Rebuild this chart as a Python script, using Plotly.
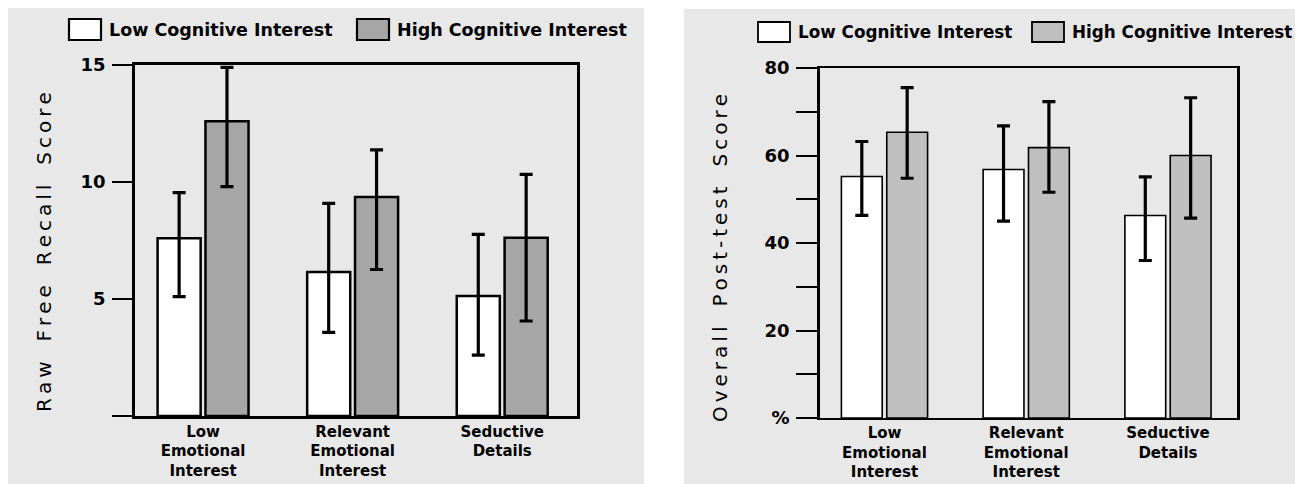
import plotly.graph_objects as go

# Conditions on the x axis (shared by both panels)
conditions = ["Low<br>Emotional<br>Interest",
              "Relevant<br>Emotional<br>Interest",
              "Seductive<br>Details"]
series_names = ["Low Cognitive Interest", "High Cognitive Interest"]

# Panel 1: raw free recall score (means with error bars above / below)
recall_low = [7.6, 6.15, 5.13]
recall_low_up = [1.95, 2.94, 2.63]
recall_low_down = [2.5, 2.58, 2.53]
recall_high = [12.6, 9.36, 7.62]
recall_high_up = [2.3, 2.01, 2.71]
recall_high_down = [2.8, 3.1, 3.56]
recall_ticks = [0, 5, 10, 15]
recall_ticklabels = ["", "5", "10", "15"]

# Panel 2: overall post-test score (%)
post_low = [55.2, 56.8, 46.3]
post_low_up = [8.0, 9.95, 8.8]
post_low_down = [8.9, 11.8, 10.3]
post_high = [65.3, 61.8, 60.0]
post_high_up = [10.2, 10.5, 13.2]
post_high_down = [10.5, 10.2, 14.3]
post_ticks = [0, 10, 20, 30, 40, 50, 60, 70, 80]
post_ticklabels = ["%", "", "20", "", "40", "", "60", "", "80"]

W, H = 1295, 484
PANEL_BG = "#e8e8e8"
FONT = "DejaVu Sans"


def px(x):
    return x / W


def py(y):
    return 1 - y / H


def spaced(text):
    # letter-spaced axis title
    words = text.split(" ")
    return "\u2003".join("\u2009".join(w) for w in words)


fig = go.Figure()

panels = [
    dict(xa="x", ya="y", low=recall_low, lu=recall_low_up, ld=recall_low_down,
         high=recall_high, hu=recall_high_up, hd=recall_high_down,
         grey="#a6a6a6", bar_lw=2.5),
    dict(xa="x2", ya="y2", low=post_low, lu=post_low_up, ld=post_low_down,
         high=post_high, hu=post_high_up, hd=post_high_down,
         grey="#bfbfbf", bar_lw=1.6),
]

for p in panels:
    for name, vals, up, down, color in [
        (series_names[0], p["low"], p["lu"], p["ld"], "#ffffff"),
        (series_names[1], p["high"], p["hu"], p["hd"], p["grey"]),
    ]:
        fig.add_trace(go.Bar(
            x=conditions, y=vals, name=name, showlegend=False,
            xaxis=p["xa"], yaxis=p["ya"],
            marker=dict(color=color, line=dict(color="black", width=p["bar_lw"])),
            error_y=dict(type="data", symmetric=False, array=up, arrayminus=down,
                         color="black", thickness=3.2, width=6.5),
        ))

axis_common = dict(showline=True, linecolor="black", mirror=True,
                   showgrid=False, zeroline=False, automargin=False)

fig.update_layout(
    width=W, height=H, autosize=False,
    margin=dict(l=0, r=0, t=0, b=0, pad=0),
    paper_bgcolor="white", plot_bgcolor="rgba(0,0,0,0)",
    barmode="group", bargap=0.36, bargroupgap=0.1,
    font=dict(family=FONT, color="black"),
    xaxis=dict(domain=[px(135), px(577)], range=[-0.455, 2.50], anchor="y",
               ticks="", linewidth=2.5, ticklabelstandoff=0,
               tickfont=dict(family=FONT, size=15, weight="bold"), **axis_common),
    yaxis=dict(domain=[py(416), py(65)], range=[0, 15], anchor="x",
               tickvals=recall_ticks, ticktext=recall_ticklabels,
               ticks="outside", ticklen=20, tickwidth=2, tickcolor="black",
               linewidth=2.5, ticklabelstandoff=3,
               tickfont=dict(family=FONT, size=18, weight="bold"), **axis_common),
    xaxis2=dict(domain=[px(820), px(1237)], range=[-0.455, 2.487], anchor="y2",
                ticks="", linewidth=2.2, ticklabelstandoff=0,
                tickfont=dict(family=FONT, size=15, weight="bold"), **axis_common),
    yaxis2=dict(domain=[py(418), py(68)], range=[0, 80], anchor="x2",
                tickvals=post_ticks, ticktext=post_ticklabels,
                ticks="outside", ticklen=21, tickwidth=2, tickcolor="black",
                linewidth=2.5, ticklabelstandoff=3,
                tickfont=dict(family=FONT, size=18, weight="bold"), **axis_common),
)

# Grey panel backgrounds
shapes = [
    dict(type="rect", xref="paper", yref="paper", layer="below",
         x0=px(8), x1=px(644), y0=0, y1=py(8),
         fillcolor=PANEL_BG, line=dict(width=0)),
    dict(type="rect", xref="paper", yref="paper", layer="below",
         x0=px(684), x1=1, y0=0, y1=py(9),
         fillcolor=PANEL_BG, line=dict(width=0)),
]

annotations = []

# Legend boxes and labels for each panel
legend_rows = [
    # box x0, box x1, text x, y top, y bottom, fill, font size, box line width, label
    (69, 101, 107, 19, 40, "#ffffff", 17.5, 2.2, series_names[0]),
    (357, 389, 395, 19, 40, "#a6a6a6", 17.5, 2.2, series_names[1]),
    (758, 790, 796, 22, 42, "#ffffff", 16.8, 1.8, series_names[0]),
    (1032, 1064, 1070, 22, 42, "#bfbfbf", 16.8, 1.8, series_names[1]),
]
for x0, x1, tx, y0, y1, fill, fs, lw, label in legend_rows:
    shapes.append(dict(type="rect", xref="paper", yref="paper",
                       x0=px(x0), x1=px(x1), y0=py(y1), y1=py(y0),
                       fillcolor=fill, line=dict(color="black", width=lw)))
    annotations.append(dict(xref="paper", yref="paper", x=px(tx), y=py((y0 + y1) / 2),
                            xanchor="left", yanchor="middle", showarrow=False,
                            text=label,
                            font=dict(family=FONT, size=fs, weight="bold", color="black")))

# Rotated y-axis titles
for x_c, y_c, title in [(44, 252, "Raw Free Recall Score"),
                        (720, 258, "Overall Post-test Score")]:
    annotations.append(dict(xref="paper", yref="paper", x=px(x_c), y=py(y_c),
                            xanchor="center", yanchor="middle", showarrow=False,
                            textangle=-90, text=spaced(title),
                            font=dict(family=FONT, size=20, color="black")))

fig.update_layout(shapes=shapes, annotations=annotations)

fig.write_html("out.html")
